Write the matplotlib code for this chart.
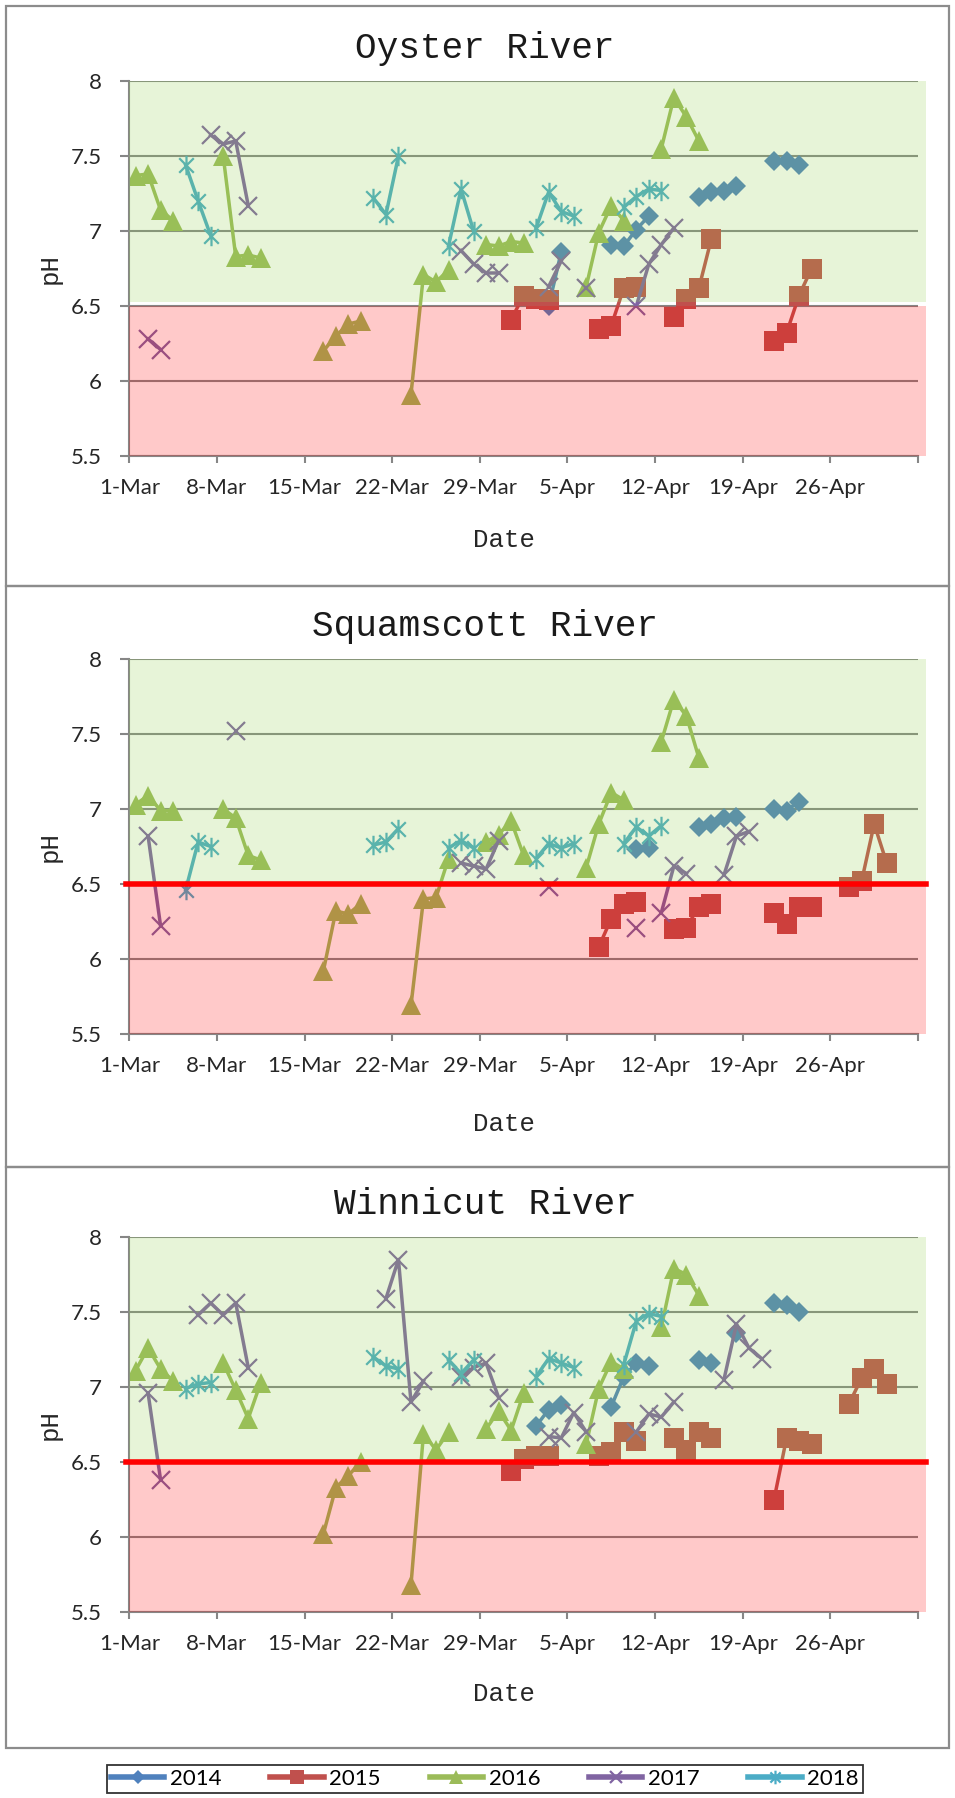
import numpy as np
import matplotlib.pyplot as plt
from matplotlib.path import Path
from matplotlib.lines import Line2D
from matplotlib.patches import Rectangle

# day numbers count from 1-Mar (0) ; pH readings per year
oyster_days = {
    '2014': [33, 34, 38, 39, 40, 41, 45, 46, 47, 48, 51, 52, 53],
    '2015': [30, 31, 32, 33, 37, 38, 39, 40, 43, 44, 45, 46, 51, 52, 53, 54],
    '2016': [0, 1, 2, 3, 7, 8, 9, 10, 15, 16, 17, 18, 22, 23, 24, 25, 28, 29, 30, 31,
             36, 37, 38, 39, 42, 43, 44, 45],
    '2017': [1, 2, 6, 7, 8, 9, 26, 27, 28, 29, 33, 34, 36, 40, 41, 42, 43],
    '2018': [4, 5, 6, 19, 20, 21, 25, 26, 27, 32, 33, 34, 35, 39, 40, 41, 42],
}
oyster_ph = {
    '2014': [6.50, 6.86, 6.91, 6.90, 7.01, 7.10, 7.23, 7.26, 7.27, 7.30, 7.47, 7.47, 7.44],
    '2015': [6.41, 6.57, 6.55, 6.54, 6.35, 6.37, 6.62, 6.63, 6.43, 6.55, 6.62, 6.95,
             6.27, 6.32, 6.57, 6.75],
    '2016': [7.37, 7.38, 7.14, 7.07, 7.50, 6.83, 6.84, 6.82, 6.20, 6.30, 6.38, 6.40,
             5.91, 6.71, 6.66, 6.74, 6.91, 6.90, 6.93, 6.92, 6.63, 6.99, 7.17, 7.07,
             7.55, 7.89, 7.76, 7.60],
    '2017': [6.28, 6.21, 7.64, 7.58, 7.60, 7.17, 6.87, 6.78, 6.72, 6.72, 6.63, 6.80,
             6.62, 6.50, 6.78, 6.91, 7.02],
    '2018': [7.44, 7.20, 6.97, 7.22, 7.11, 7.50, 6.90, 7.28, 7.00, 7.02, 7.26, 7.13,
             7.10, 7.16, 7.23, 7.28, 7.27],
}

squam_days = {
    '2014': [40, 41, 45, 46, 47, 48, 51, 52, 53],
    '2015': [37, 38, 39, 40, 43, 44, 45, 46, 51, 52, 53, 54, 57, 58, 59, 60],
    '2016': [0, 1, 2, 3, 7, 8, 9, 10, 15, 16, 17, 18, 22, 23, 24, 25, 28, 29, 30, 31,
             36, 37, 38, 39, 42, 43, 44, 45],
    '2017': [1, 2, 8, 26, 27, 28, 29, 33, 40, 42, 43, 44, 47, 48, 49],
    '2018': [4, 5, 6, 19, 20, 21, 25, 26, 27, 32, 33, 34, 35, 39, 40, 41, 42],
}
squam_ph = {
    '2014': [6.73, 6.74, 6.88, 6.90, 6.94, 6.95, 7.00, 6.99, 7.05],
    '2015': [6.08, 6.27, 6.37, 6.38, 6.20, 6.21, 6.35, 6.37, 6.31, 6.23, 6.35, 6.35,
             6.48, 6.52, 6.90, 6.64],
    '2016': [7.03, 7.09, 6.99, 6.99, 7.00, 6.94, 6.69, 6.66, 5.92, 6.32, 6.30, 6.37,
             5.69, 6.40, 6.41, 6.67, 6.78, 6.83, 6.92, 6.69, 6.61, 6.90, 7.11, 7.06,
             7.45, 7.73, 7.62, 7.34],
    '2017': [6.82, 6.22, 7.52, 6.64, 6.62, 6.60, 6.79, 6.48, 6.21, 6.31, 6.62, 6.57,
             6.56, 6.82, 6.85],
    '2018': [6.46, 6.78, 6.75, 6.76, 6.78, 6.87, 6.74, 6.79, 6.74, 6.67, 6.77, 6.74,
             6.77, 6.77, 6.88, 6.82, 6.89],
}

winni_days = {
    '2014': [32, 33, 34, 38, 39, 40, 41, 45, 46, 48, 51, 52, 53],
    '2015': [30, 31, 32, 33, 37, 38, 39, 40, 43, 44, 45, 46, 51, 52, 53, 54, 57, 58, 59, 60],
    '2016': [0, 1, 2, 3, 7, 8, 9, 10, 15, 16, 17, 18, 22, 23, 24, 25, 28, 29, 30, 31,
             36, 37, 38, 39, 42, 43, 44, 45],
    '2017': [1, 2, 5, 6, 7, 8, 9, 20, 21, 22, 23, 26, 27, 28, 29, 33, 34, 35, 36,
             40, 41, 42, 43, 47, 48, 49, 50],
    '2018': [4, 5, 6, 19, 20, 21, 25, 26, 27, 32, 33, 34, 35, 39, 40, 41, 42],
}
winni_ph = {
    '2014': [6.74, 6.85, 6.88, 6.87, 7.07, 7.16, 7.14, 7.18, 7.16, 7.36, 7.56, 7.55, 7.50],
    '2015': [6.44, 6.52, 6.54, 6.54, 6.54, 6.57, 6.70, 6.64, 6.66, 6.58, 6.70, 6.66,
             6.25, 6.66, 6.64, 6.62, 6.89, 7.06, 7.12, 7.02],
    '2016': [7.11, 7.26, 7.12, 7.04, 7.16, 6.98, 6.79, 7.03, 6.02, 6.33, 6.41, 6.50,
             5.68, 6.69, 6.58, 6.70, 6.72, 6.84, 6.71, 6.96, 6.62, 6.99, 7.17, 7.12,
             7.40, 7.79, 7.75, 7.61],
    '2017': [6.96, 6.38, 7.48, 7.56, 7.48, 7.56, 7.13, 7.59, 7.85, 6.90, 7.04, 7.07,
             7.13, 7.16, 6.93, 6.67, 6.66, 6.83, 6.70, 6.70, 6.82, 6.80, 6.90, 7.05,
             7.42, 7.26, 7.19],
    '2018': [6.99, 7.02, 7.03, 7.20, 7.14, 7.12, 7.18, 7.09, 7.18, 7.07, 7.19, 7.16,
             7.13, 7.15, 7.44, 7.49, 7.47],
}

rivers = ['Oyster River', 'Squamscott River', 'Winnicut River']
years = ['2014', '2015', '2016', '2017', '2018']
tick_days = [0, 7, 14, 21, 28, 35, 42, 49, 56, 63]
tick_labels = ['1-Mar', '8-Mar', '15-Mar', '22-Mar', '29-Mar', '5-Apr', '12-Apr',
               '19-Apr', '26-Apr', '']

# excel style asterisk marker
aster = Path([(0, -1), (0, 1), (-0.75, -0.75), (0.75, 0.75), (-0.75, 0.75), (0.75, -0.75)],
             [Path.MOVETO, Path.LINETO] * 3)
style = {
    '2014': dict(color='#4F81BD', marker='D', ms=10, mew=0),
    '2015': dict(color='#C0504D', marker='s', ms=15, mew=0),
    '2016': dict(color='#9BBB59', marker='^', ms=14, mew=0),
    '2017': dict(color='#8064A2', marker='x', ms=13, mew=1.6),
    '2018': dict(color='#4BACC6', marker=aster, ms=14, mew=1.6, mfc='none'),
}


def segments(days, ph):
    # blank days break the line like in the spreadsheet
    x, y = [], []
    for k, (d, v) in enumerate(zip(days, ph)):
        if k and d - days[k - 1] > 1:
            x.append(np.nan)
            y.append(np.nan)
        x.append(d + 0.5)
        y.append(v)
    return x, y


W, H = 955, 1798
fig = plt.figure(figsize=(W / 100, H / 100), dpi=100)

tops = [81, 659, 1237]
title_y = [48, 627, 1205]
date_y = [540, 1124, 1694]
frames = [(6, 586), (586, 1167), (1167, 1748)]
all_days = [oyster_days, squam_days, winni_days]
all_ph = [oyster_ph, squam_ph, winni_ph]
grey = '#868686'

for i in range(3):
    f0, f1 = frames[i]
    fig.add_artist(Rectangle((6 / W, 1 - f1 / H), 943 / W, (f1 - f0) / H,
                             transform=fig.transFigure, fill=False,
                             edgecolor='#8c8c8c', lw=1.6))
    ax = fig.add_axes([129.3 / W, 1 - (tops[i] + 375) / H, 788.7 / W, 375 / H])
    ax.set_xlim(0, 63)
    ax.set_ylim(5.5, 8)
    for yr in years:
        x, y = segments(all_days[i][yr], all_ph[i][yr])
        ax.plot(x, y, lw=2.5, zorder=2, **style[yr])

    # acceptable / low pH bands laid over the data
    green_bottom = 6.53 if i == 0 else 6.5
    ax.add_patch(Rectangle((0, green_bottom), 63.6, 8 - green_bottom, facecolor='#92D050',
                           alpha=0.22, lw=0, zorder=3, clip_on=False))
    ax.add_patch(Rectangle((0, 5.5), 63.6, 1.0, facecolor='#FF0000',
                           alpha=0.21, lw=0, zorder=3, clip_on=False))
    if i > 0:
        ax.plot([-0.3, 63.6], [6.5, 6.5], color='#FF0000', lw=4, zorder=4,
                clip_on=False)

    ax.set_yticks(np.arange(5.5, 8.01, 0.5))
    ax.set_yticklabels(['5.5', '6', '6.5', '7', '7.5', '8'])
    ax.set_xticks(tick_days)
    ax.set_xticklabels(tick_labels)
    ax.yaxis.grid(True, color=grey, lw=1.5, zorder=0.5)
    ax.set_axisbelow(True)
    for s in ['top', 'right']:
        ax.spines[s].set_visible(False)
    for s in ['left', 'bottom']:
        ax.spines[s].set_color(grey)
        ax.spines[s].set_linewidth(1.5)
    ax.tick_params(axis='y', length=6.5, width=1.5, color=grey, pad=13,
                   labelsize=16, labelcolor='#262626')
    ax.tick_params(axis='x', length=5, width=1.5, color=grey, pad=11,
                   labelsize=16, labelcolor='#262626')
    for lab in ax.get_xticklabels() + ax.get_yticklabels():
        lab.set_fontfamily('Lato')
    ax.set_facecolor('white')

    fig.text(485 / W, 1 - title_y[i] / H, rivers[i], ha='center', va='center',
             fontsize=26, family='Liberation Mono', color='#1a1a1a')
    fig.text(504 / W, 1 - date_y[i] / H, 'Date', ha='center', va='center',
             fontsize=18.5, family='Liberation Mono', color='#262626')
    fig.text(50 / W, 1 - (tops[i] + 187.5) / H, 'pH', ha='center', va='center',
             rotation=90, fontsize=18.5, family='Liberation Mono', color='#262626')

handles = []
for yr in years:
    st = dict(style[yr])
    st['ms'] = st['ms'] * 0.7
    handles.append(Line2D([], [], lw=4, **st))
leg = fig.legend(handles, years, ncol=5, loc='center',
                 bbox_to_anchor=(485 / W, 1 - 1779 / H), frameon=True,
                 fancybox=False, edgecolor='black', prop={'family': 'Lato', 'size': 16},
                 handlelength=2.4, handletextpad=0.25, columnspacing=2.2,
                 borderpad=0.2)
leg.get_frame().set_linewidth(1.3)

fig.savefig('out.png', dpi=100, facecolor='white')
